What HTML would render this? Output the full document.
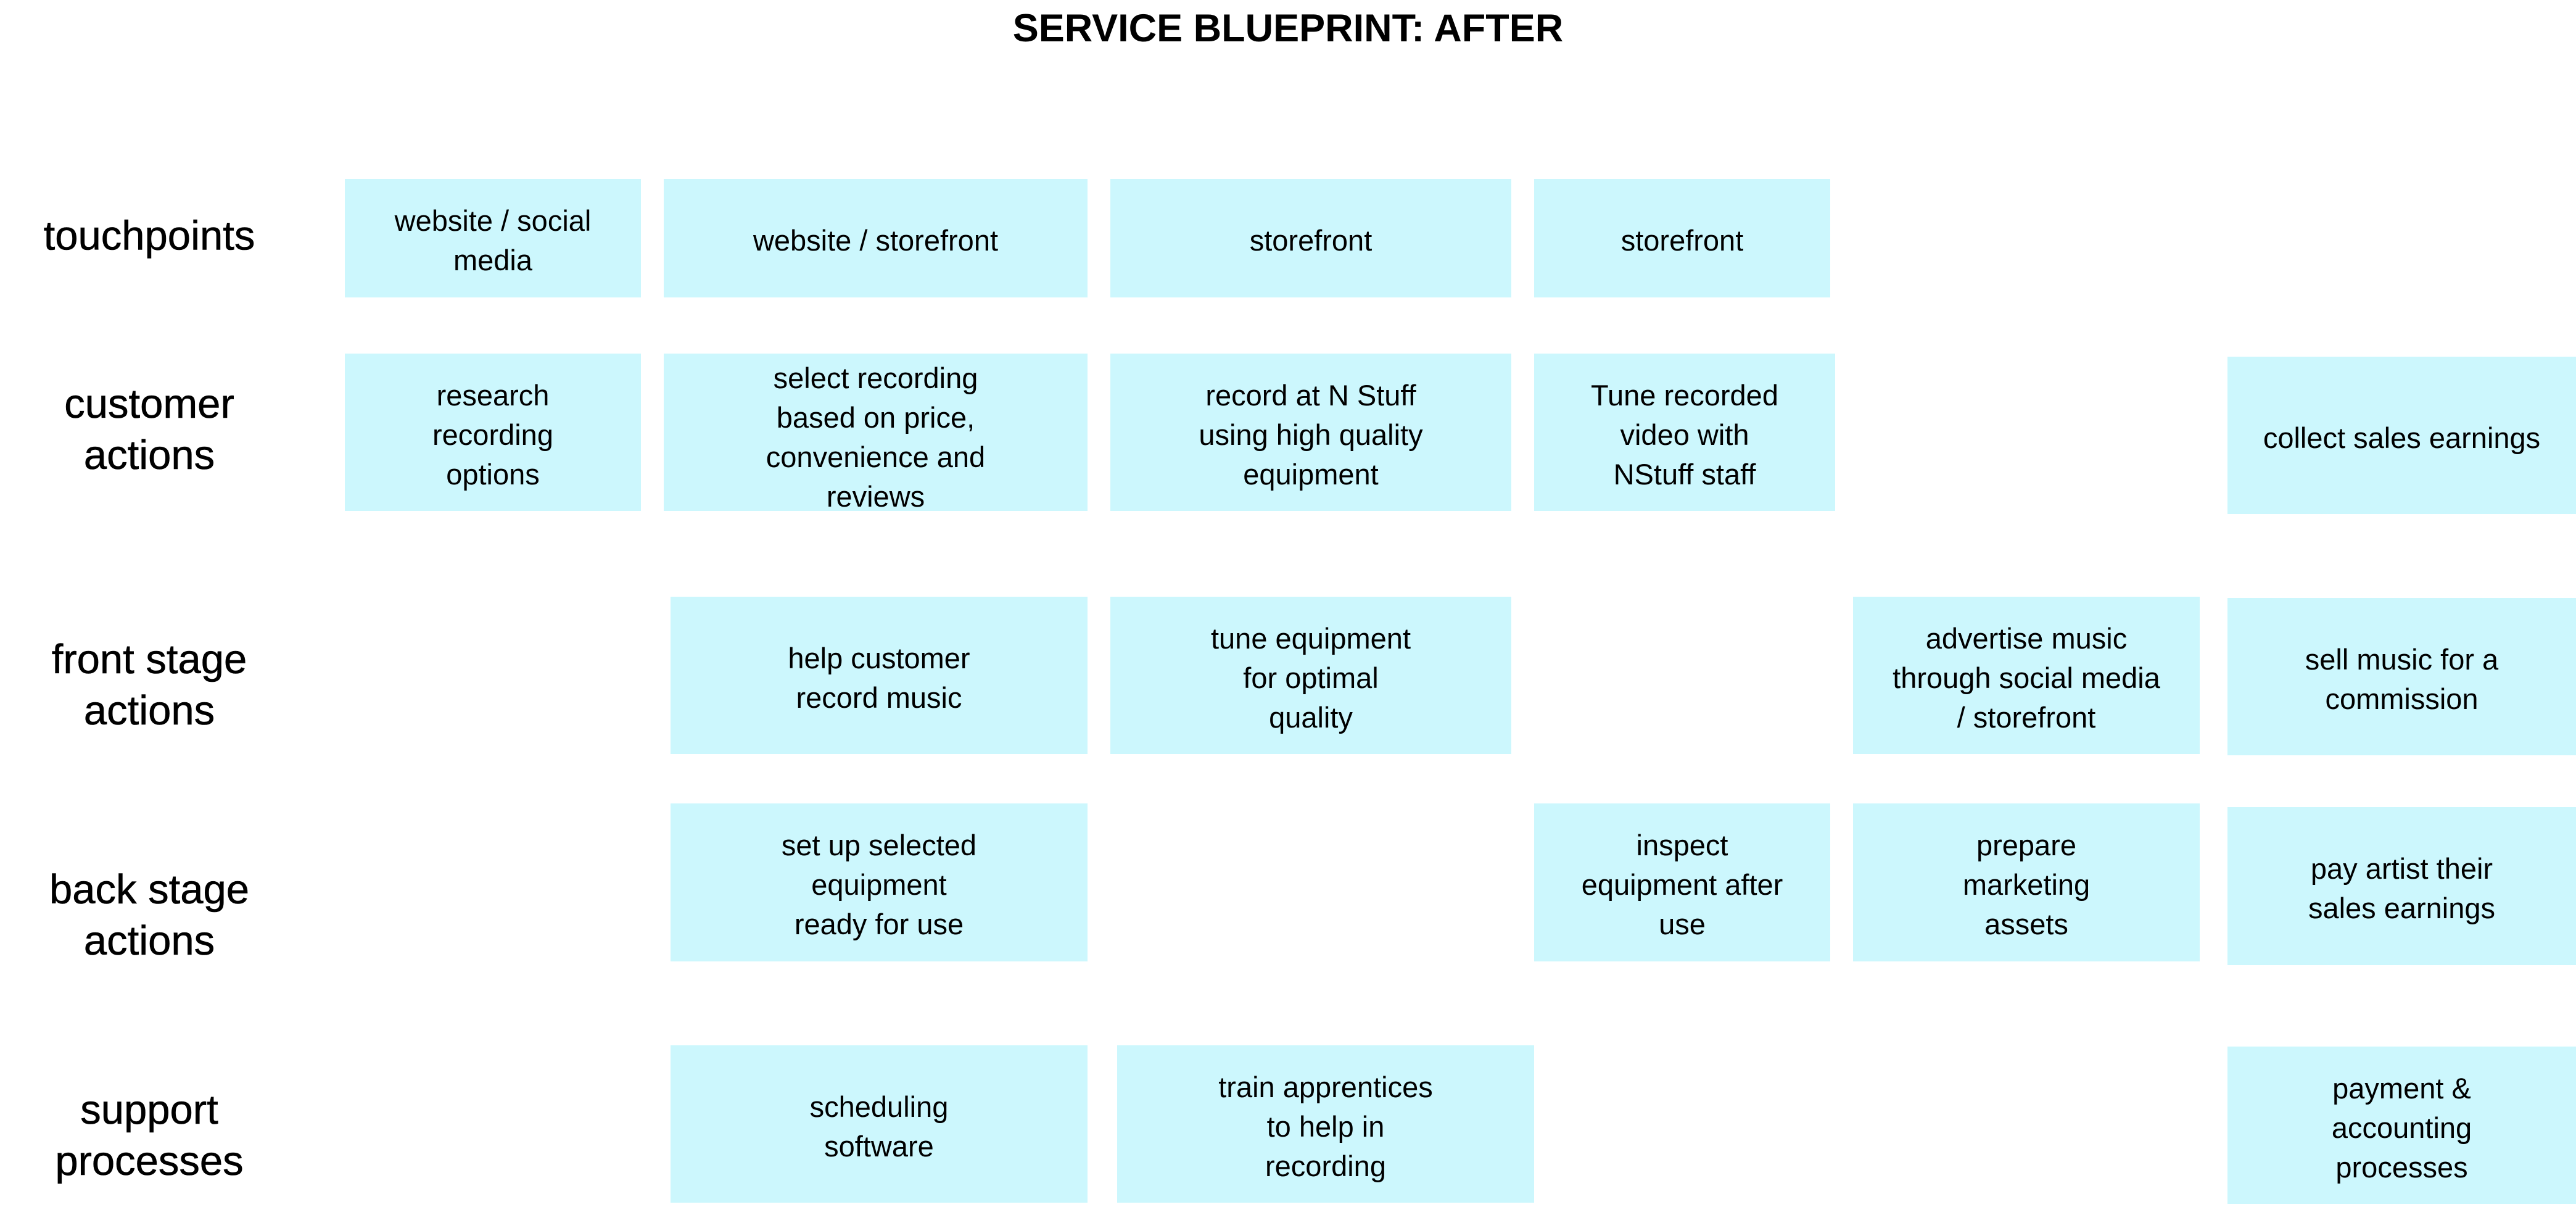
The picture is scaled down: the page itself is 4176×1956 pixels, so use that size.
<!DOCTYPE html>
<html><head><meta charset="utf-8"><style>
html,body{margin:0;padding:0;background:#fff;}
body{width:4176px;height:1956px;position:relative;overflow:hidden;font-family:"Liberation Sans",sans-serif;color:#000;}
.b{position:absolute;background:#ccf7fd;display:flex;align-items:center;justify-content:center;text-align:center;font-size:47px;line-height:64px;padding-top:8px;box-sizing:border-box;}
.l{position:absolute;left:0;width:484px;text-align:center;font-size:67px;line-height:83px;font-family:"Liberation Sans",sans-serif;transform:translateY(-50%);-webkit-text-stroke:0.6px #000;}
.t{position:absolute;left:0;width:4176px;top:8px;text-align:center;font-family:"Liberation Sans",sans-serif;font-weight:bold;font-size:63px;line-height:76px;}
</style></head><body>
<div class="t">SERVICE BLUEPRINT: AFTER</div>

<div class="l" style="top:382px">touchpoints</div>
<div class="l" style="top:696px">customer<br>actions</div>
<div class="l" style="top:1110px">front stage<br>actions</div>
<div class="l" style="top:1483px">back stage<br>actions</div>
<div class="l" style="top:1840px">support<br>processes</div>

<div class="b" style="left:559px;top:290px;width:480px;height:192px">website / social<br>media</div>
<div class="b" style="left:1076px;top:290px;width:687px;height:192px">website / storefront</div>
<div class="b" style="left:1800px;top:290px;width:650px;height:192px">storefront</div>
<div class="b" style="left:2487px;top:290px;width:480px;height:192px">storefront</div>

<div class="b" style="left:559px;top:573px;width:480px;height:255px">research<br>recording<br>options</div>
<div class="b" style="left:1076px;top:573px;width:687px;height:255px;padding-top:16px">select recording<br>based on price,<br>convenience and<br>reviews</div>
<div class="b" style="left:1800px;top:573px;width:650px;height:255px">record at N Stuff<br>using high quality<br>equipment</div>
<div class="b" style="left:2487px;top:573px;width:488px;height:255px">Tune recorded<br>video with<br>NStuff staff</div>
<div class="b" style="left:3611px;top:578px;width:565px;height:255px">collect sales earnings</div>

<div class="b" style="left:1087px;top:967px;width:676px;height:255px">help customer<br>record music</div>
<div class="b" style="left:1800px;top:967px;width:650px;height:255px">tune equipment<br>for optimal<br>quality</div>
<div class="b" style="left:3004px;top:967px;width:562px;height:255px">advertise music<br>through social media<br>/ storefront</div>
<div class="b" style="left:3611px;top:969px;width:565px;height:255px">sell music for a<br>commission</div>

<div class="b" style="left:1087px;top:1302px;width:676px;height:256px">set up selected<br>equipment<br>ready for use</div>
<div class="b" style="left:2487px;top:1302px;width:480px;height:256px">inspect<br>equipment after<br>use</div>
<div class="b" style="left:3004px;top:1302px;width:562px;height:256px">prepare<br>marketing<br>assets</div>
<div class="b" style="left:3611px;top:1308px;width:565px;height:256px">pay artist their<br>sales earnings</div>

<div class="b" style="left:1087px;top:1694px;width:676px;height:255px">scheduling<br>software</div>
<div class="b" style="left:1811px;top:1694px;width:676px;height:255px">train apprentices<br>to help in<br>recording</div>
<div class="b" style="left:3611px;top:1696px;width:565px;height:255px">payment &amp;<br>accounting<br>processes</div>
</body></html>
